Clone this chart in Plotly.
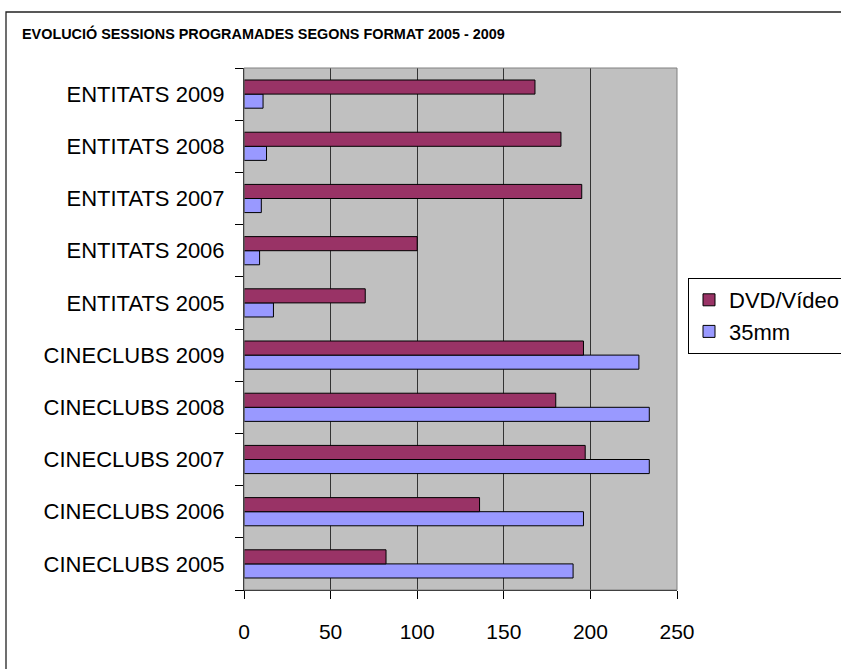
import plotly.graph_objects as go

categories = [
    "CINECLUBS 2005", "CINECLUBS 2006", "CINECLUBS 2007", "CINECLUBS 2008", "CINECLUBS 2009",
    "ENTITATS 2005", "ENTITATS 2006", "ENTITATS 2007", "ENTITATS 2008", "ENTITATS 2009",
]
dvd_video = [82, 136, 197, 180, 196, 70, 100, 195, 183, 168]
mm35 = [190, 196, 234, 234, 228, 17, 9, 10, 13, 11]
x_ticks = [0, 50, 100, 150, 200, 250]

FONT = "Liberation Sans, Arial, sans-serif"

# pixel geometry of plot area
W, H = 841, 669
L, R, T, B = 244, 677, 68, 590
pw, ph = R - L, B - T

def px_x(p):
    return (p - L) / pw

def px_y(p):
    return (B - p) / ph

fig = go.Figure()
fig.add_trace(go.Bar(
    y=categories, x=mm35, orientation="h", name="35mm",
    marker=dict(color="#9999FF", line=dict(color="black", width=1)),
))
fig.add_trace(go.Bar(
    y=categories, x=dvd_video, orientation="h", name="DVD/Vídeo",
    marker=dict(color="#993366", line=dict(color="black", width=1)),
))

fig.update_layout(
    template="none",
    width=W, height=H,
    margin=dict(l=L, r=W - R, t=T, b=H - B, pad=0, autoexpand=False),
    paper_bgcolor="white",
    plot_bgcolor="#C0C0C0",
    barmode="group",
    bargap=0.46,
    bargroupgap=0,
    font=dict(family=FONT, size=21, color="black"),
    title=dict(
        text="<b>EVOLUCIÓ SESSIONS PROGRAMADES SEGONS FORMAT 2005 - 2009</b>",
        font=dict(family=FONT, size=14.4, color="black"),
        x=22 / W, xref="container", xanchor="left",
        y=1 - 34 / H, yref="container", yanchor="middle",
    ),
    legend=dict(
        x=px_x(688), y=px_y(278), xanchor="left", yanchor="top",
        traceorder="reversed",
        bgcolor="white", bordercolor="black", borderwidth=1,
        font=dict(family=FONT, size=22, color="black"),
        itemwidth=30,
    ),
    xaxis=dict(
        range=[0, 250], tickvals=x_ticks, ticktext=[str(v) for v in x_ticks],
        showgrid=True, gridcolor="#333333", gridwidth=1,
        zeroline=False,
        showline=True, linecolor="black", linewidth=1,
        ticks="outside", ticklen=8, tickcolor="black", tickwidth=1,
        tickfont=dict(family=FONT, size=21, color="black"),
        ticklabelstandoff=15,
        automargin=False, fixedrange=True,
    ),
    yaxis=dict(
        type="category", categoryorder="array", categoryarray=categories,
        showgrid=False, zeroline=False,
        showline=True, linecolor="black", linewidth=1,
        ticks="outside", ticklen=8, tickcolor="black", tickwidth=1,
        tickson="boundaries",
        tickfont=dict(family=FONT, size=22, color="black"),
        ticklabelstandoff=14,
        automargin=False, fixedrange=True,
    ),
    shapes=[
        dict(type="rect", xref="paper", yref="paper", x0=0, x1=1, y0=0, y1=1,
             line=dict(color="#808080", width=1), layer="above"),
        dict(type="rect", xref="paper", yref="paper",
             x0=px_x(6), x1=px_x(860), y0=px_y(690), y1=px_y(12),
             line=dict(color="#222222", width=1.3), layer="above"),
    ],
)

fig.write_html(
    "out.html",
    config={"displayModeBar": False},
    post_script="document.body.style.margin='0';document.body.style.overflow='hidden';",
)
